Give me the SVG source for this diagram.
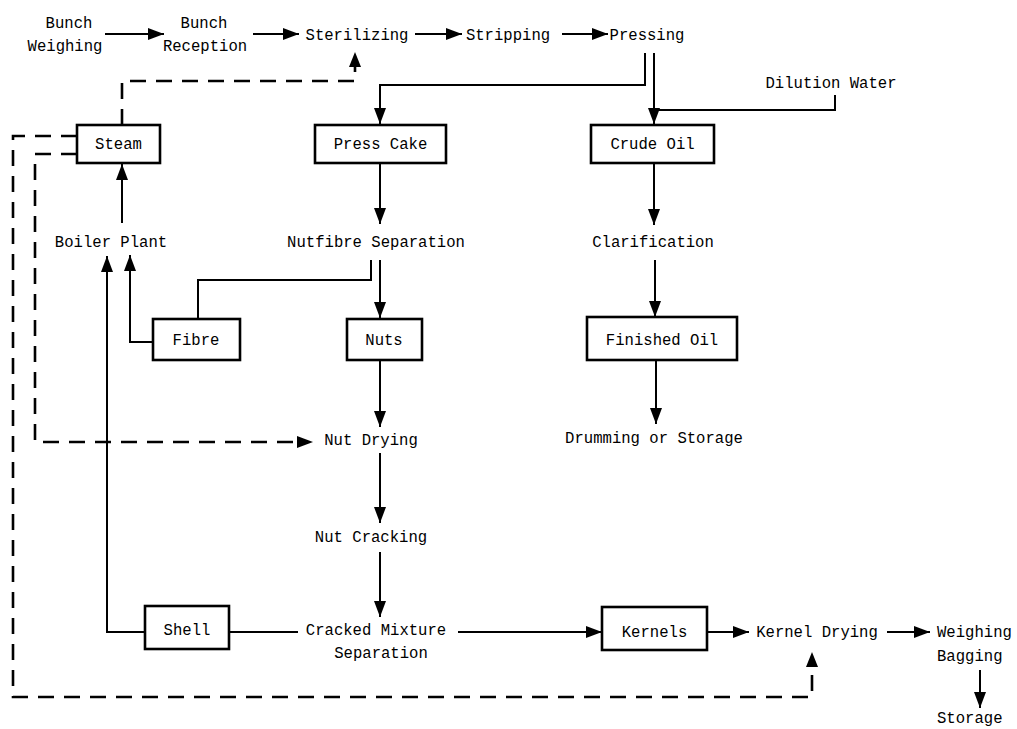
<svg xmlns="http://www.w3.org/2000/svg" width="1017" height="729" viewBox="0 0 1017 729">
<style>
text{font-family:"Liberation Mono","DejaVu Sans Mono",monospace;font-size:15.6px;fill:#000;text-anchor:middle}
.st{text-anchor:start}
.box{fill:#fff;stroke:#000;stroke-width:2.6}
.ln{fill:none;stroke:#000;stroke-width:2}
.ar{marker-end:url(#ah)}
.ds{fill:none;stroke:#000;stroke-width:2.6;stroke-dasharray:16 10}
</style>
<defs>
<marker id="ah" markerUnits="userSpaceOnUse" markerWidth="16" markerHeight="12" viewBox="0 0 16 12" refX="16" refY="6" orient="auto">
<path d="M0,0 L16,6 L0,12 Z" fill="#000"/>
</marker>
</defs>
<rect width="1017" height="729" fill="#fff"/>
<g id="connectors">
<line class="ln ar" x1="105" y1="34" x2="164" y2="34"/>
<line class="ln ar" x1="253" y1="34" x2="299" y2="34"/>
<line class="ln ar" x1="415" y1="34" x2="462" y2="34"/>
<line class="ln ar" x1="562" y1="34" x2="608" y2="34"/>
<polyline class="ln ar" points="645,53 645,85 380,85 380,124"/>
<line class="ln ar" x1="654" y1="53" x2="654" y2="124"/>
<polyline class="ln" points="835,95 835,110 654,110"/>
<line class="ln ar" x1="380" y1="163" x2="380" y2="224"/>
<line class="ln ar" x1="654" y1="163" x2="654" y2="225"/>
<line class="ln ar" x1="122" y1="223" x2="122" y2="164"/>
<polyline class="ln ar" points="153,342 130,342 130,255"/>
<polyline class="ln ar" points="145,632 107,632 107,256"/>
<polyline class="ln" points="371,260 371,280 198,280 198,319"/>
<line class="ln ar" x1="380" y1="260" x2="380" y2="318"/>
<line class="ln ar" x1="655" y1="260" x2="655" y2="317"/>
<line class="ln ar" x1="380" y1="360" x2="380" y2="427"/>
<line class="ln ar" x1="656" y1="360" x2="656" y2="424"/>
<line class="ln ar" x1="380" y1="453" x2="380" y2="523"/>
<line class="ln ar" x1="380" y1="552" x2="380" y2="617"/>
<line class="ln" x1="229" y1="632" x2="298" y2="632"/>
<line class="ln ar" x1="458" y1="632" x2="602" y2="632"/>
<line class="ln ar" x1="707" y1="632" x2="749" y2="632"/>
<line class="ln ar" x1="887" y1="632" x2="930" y2="632"/>
<line class="ln ar" x1="980" y1="670" x2="980" y2="708"/>
<polyline class="ds" points="122,125 122,81 355,81 355,66"/>
<path d="M349,67 L355,52 L361,67 Z" fill="#000"/>
<polyline class="ds" points="77,136 13,136 13,697 812,697 812,666"/>
<path d="M806,667 L812,652 L818,667 Z" fill="#000"/>
<polyline class="ds" points="77,154 35,154 35,442 298,442"/>
<path d="M297,436 L313,442 L297,448 Z" fill="#000"/>
</g>
<g id="bunch-weighing"><text x="69" y="28">Bunch</text><text x="65" y="51">Weighing</text></g>
<g id="bunch-reception"><text x="204" y="28">Bunch</text><text x="205" y="51">Reception</text></g>
<g id="sterilizing"><text x="357" y="40">Sterilizing</text></g>
<g id="stripping"><text x="508" y="40">Stripping</text></g>
<g id="pressing"><text x="647" y="40">Pressing</text></g>
<g id="dilution-water"><text x="831" y="88">Dilution Water</text></g>
<g id="steam"><rect class="box" x="77" y="125" width="83" height="38"/><text x="118.5" y="149">Steam</text></g>
<g id="press-cake"><rect class="box" x="315" y="125" width="131" height="38"/><text x="380.5" y="149">Press Cake</text></g>
<g id="crude-oil"><rect class="box" x="591" y="125" width="123" height="38"/><text x="652.5" y="149">Crude Oil</text></g>
<g id="boiler-plant"><text x="111" y="247">Boiler Plant</text></g>
<g id="nutfibre-separation"><text x="376" y="247">Nutfibre Separation</text></g>
<g id="clarification"><text x="653" y="247">Clarification</text></g>
<g id="fibre"><rect class="box" x="153" y="319" width="87" height="41"/><text x="196" y="345">Fibre</text></g>
<g id="nuts"><rect class="box" x="347" y="319" width="75" height="41"/><text x="384" y="345">Nuts</text></g>
<g id="finished-oil"><rect class="box" x="587" y="317" width="150" height="43"/><text x="662" y="345">Finished Oil</text></g>
<g id="nut-drying"><text x="371" y="445">Nut Drying</text></g>
<g id="drumming"><text x="654" y="443">Drumming or Storage</text></g>
<g id="nut-cracking"><text x="371" y="542">Nut Cracking</text></g>
<g id="shell"><rect class="box" x="145" y="606" width="84" height="43"/><text x="187" y="635">Shell</text></g>
<g id="cracked-mixture"><text x="376" y="635">Cracked Mixture</text><text x="381" y="658">Separation</text></g>
<g id="kernels"><rect class="box" x="602" y="607" width="105" height="43"/><text x="654.5" y="637">Kernels</text></g>
<g id="kernel-drying"><text x="817" y="637">Kernel Drying</text></g>
<g id="weighing-bagging"><text class="st" x="937" y="637">Weighing</text><text class="st" x="937" y="661">Bagging</text></g>
<g id="storage"><text class="st" x="937" y="723">Storage</text></g>
</svg>
